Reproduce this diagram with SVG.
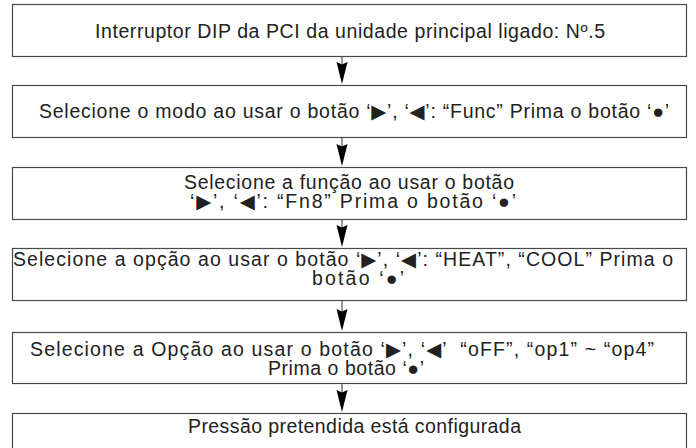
<svg xmlns="http://www.w3.org/2000/svg" width="696" height="448" viewBox="0 0 696 448">
<style>
.box{fill:#fff;stroke:#4a4a4a;stroke-width:1.2}
.t{font-family:"Liberation Sans",Arial,"DejaVu Sans",sans-serif;font-size:19.5px;fill:#222;white-space:pre}
.ln{stroke:#333;stroke-width:1;fill:none}
.ah{fill:#000}
</style>
<defs>
<path id="ah" class="ah" d="M-5.5,0 L0,2.5 L5.5,0 L0,22 Z"/>
</defs>
<rect width="696" height="448" fill="#fff"/>
<g id="n1"><rect class="box" x="12.5" y="4.5" width="674" height="52"/>
<text class="t" x="95" y="38" textLength="510" lengthAdjust="spacing">Interruptor DIP da PCI da unidade principal ligado: Nº.5</text></g>
<g id="n2"><rect class="box" x="12.5" y="85.5" width="674" height="52"/>
<text class="t" x="39" y="118" textLength="630" lengthAdjust="spacing">Selecione o modo ao usar o botão ‘▶’, ‘◀’: “Func” Prima o botão ‘●’</text></g>
<g id="n3"><rect class="box" x="12.5" y="167.5" width="674" height="52"/>
<text class="t" x="184" y="189" textLength="330" lengthAdjust="spacing">Selecione a função ao usar o botão</text>
<text class="t" x="190" y="208" textLength="326" lengthAdjust="spacing">‘▶’, ‘◀’: “Fn8” Prima o botão ‘●’</text></g>
<g id="n4"><rect class="box" x="12.5" y="248.5" width="674" height="52"/>
<text class="t" x="13" y="266" textLength="660" lengthAdjust="spacing">Selecione a opção ao usar o botão ‘▶’, ‘◀’: “HEAT”, “COOL” Prima o</text>
<text class="t" x="312" y="285" textLength="92" lengthAdjust="spacing">botão ‘●’</text></g>
<g id="n5"><rect class="box" x="12.5" y="332.5" width="674" height="51"/>
<text class="t" x="30" y="356" textLength="624" lengthAdjust="spacing">Selecione a Opção ao usar o botão ‘▶’, ‘◀’  “oFF”, “op1” ~ “op4”</text>
<text class="t" x="268" y="375" textLength="156" lengthAdjust="spacing">Prima o botão ‘●’</text></g>
<g id="n6"><rect class="box" x="12.5" y="413.5" width="674" height="60"/>
<text class="t" x="188" y="433" textLength="333" lengthAdjust="spacing">Pressão pretendida está configurada</text></g>
<g id="connectors">
<line class="ln" x1="342" y1="57" x2="342" y2="65"/>
<use href="#ah" x="342" y="62"/>
<line class="ln" x1="342" y1="138" x2="342" y2="147"/>
<use href="#ah" x="342" y="144"/>
<line class="ln" x1="342" y1="220" x2="342" y2="228"/>
<use href="#ah" x="342" y="225"/>
<line class="ln" x1="342" y1="301" x2="342" y2="312"/>
<use href="#ah" x="342" y="309"/>
<line class="ln" x1="342" y1="384" x2="342" y2="393"/>
<use href="#ah" x="342" y="390"/>
</g>
</svg>
